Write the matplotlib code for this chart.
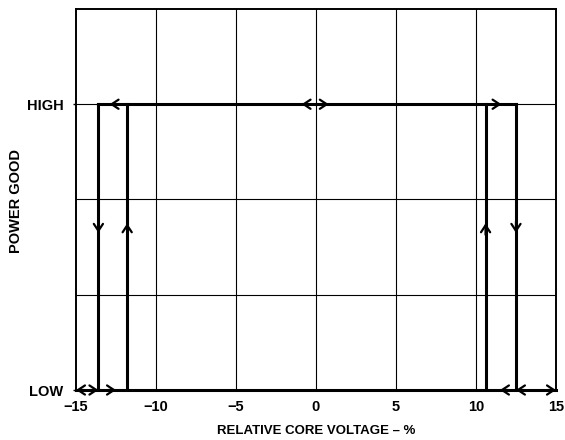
import matplotlib
matplotlib.use('Agg')
import matplotlib.pyplot as plt

plt.rcParams['font.family'] = ['Liberation Sans', 'DejaVu Sans']
plt.rcParams['font.weight'] = 'bold'

# hysteresis thresholds (% of nominal core voltage)
x_under_fall = -13.6
x_under_rise = -11.8
x_over_rise = 10.6
x_over_fall = 12.5
low_level = 0
high_level = 3

x_ticks = [-15, -10, -5, 0, 5, 10, 15]
x_tick_labels = ['\u221215', '\u221210', '\u22125', '0', '5', '10', '15']
y_ticks = [0, 3]
y_tick_labels = ['LOW', 'HIGH']

# arrow heads: (tip x, tip y, direction x, direction y)
arrows = [
    (-12.9, 3, -1, 0),
    (-0.9, 3, -1, 0),
    (0.8, 3, 1, 0),
    (11.6, 3, 1, 0),
    (-15.0, 0, -1, 0),
    (-13.6, 0, 1, 0),
    (-12.5, 0, 1, 0),
    (11.5, 0, -1, 0),
    (12.5, 0, -1, 0),
    (15.0, 0, 1, 0),
    (-13.6, 1.65, 0, -1),
    (-11.8, 1.75, 0, 1),
    (10.6, 1.75, 0, 1),
    (12.5, 1.65, 0, -1),
]

fig = plt.figure(figsize=(5.65, 4.4), dpi=100)
ax = fig.add_axes([0.1345, 0.1136, 0.8495, 0.866])

ax.set_xlim(-15, 15)
ax.set_ylim(0, 4)

for gx in [-10, -5, 0, 5, 10]:
    ax.axvline(gx, color='black', lw=0.8, zorder=1)
for gy in [1, 2, 3]:
    ax.axhline(gy, color='black', lw=0.8, zorder=1)

lw = 2.2
ax.plot([x_under_fall, x_over_fall], [high_level, high_level], color='black', lw=lw, zorder=3)
ax.plot([-15, 15], [low_level, low_level], color='black', lw=lw, zorder=3, clip_on=False)
for vx in [x_under_fall, x_under_rise, x_over_rise, x_over_fall]:
    ax.plot([vx, vx], [low_level, high_level], color='black', lw=lw, zorder=3)

for tx, ty, dx, dy in arrows:
    ax.annotate('', xy=(tx, ty), xytext=(tx - dx * 0.5, ty - dy * 0.12),
                arrowprops=dict(arrowstyle='->,head_length=0.5,head_width=0.33',
                                lw=1.6, color='black', mutation_scale=10,
                                shrinkA=0, shrinkB=0),
                zorder=4, annotation_clip=False)

ax.set_xticks(x_ticks)
ax.set_xticklabels(x_tick_labels, fontsize=10.5, fontweight='bold')
ax.set_yticks(y_ticks)
ax.set_yticklabels(y_tick_labels, fontsize=10.5, fontweight='bold')
ax.tick_params(axis='x', length=0, pad=7)
ax.tick_params(axis='y', length=2, width=1, pad=7)

for side in ['top', 'right', 'left', 'bottom']:
    ax.spines[side].set_linewidth(1.4)

ax.set_xlabel('RELATIVE CORE VOLTAGE \u2013 %', fontsize=9.5, fontweight='bold', labelpad=8)
fig.text(16 / 565, 1 - 201 / 440, 'POWER GOOD', rotation=90, fontsize=10.5,
         fontweight='bold', ha='center', va='center')

fig.savefig('out.png', dpi=100)
